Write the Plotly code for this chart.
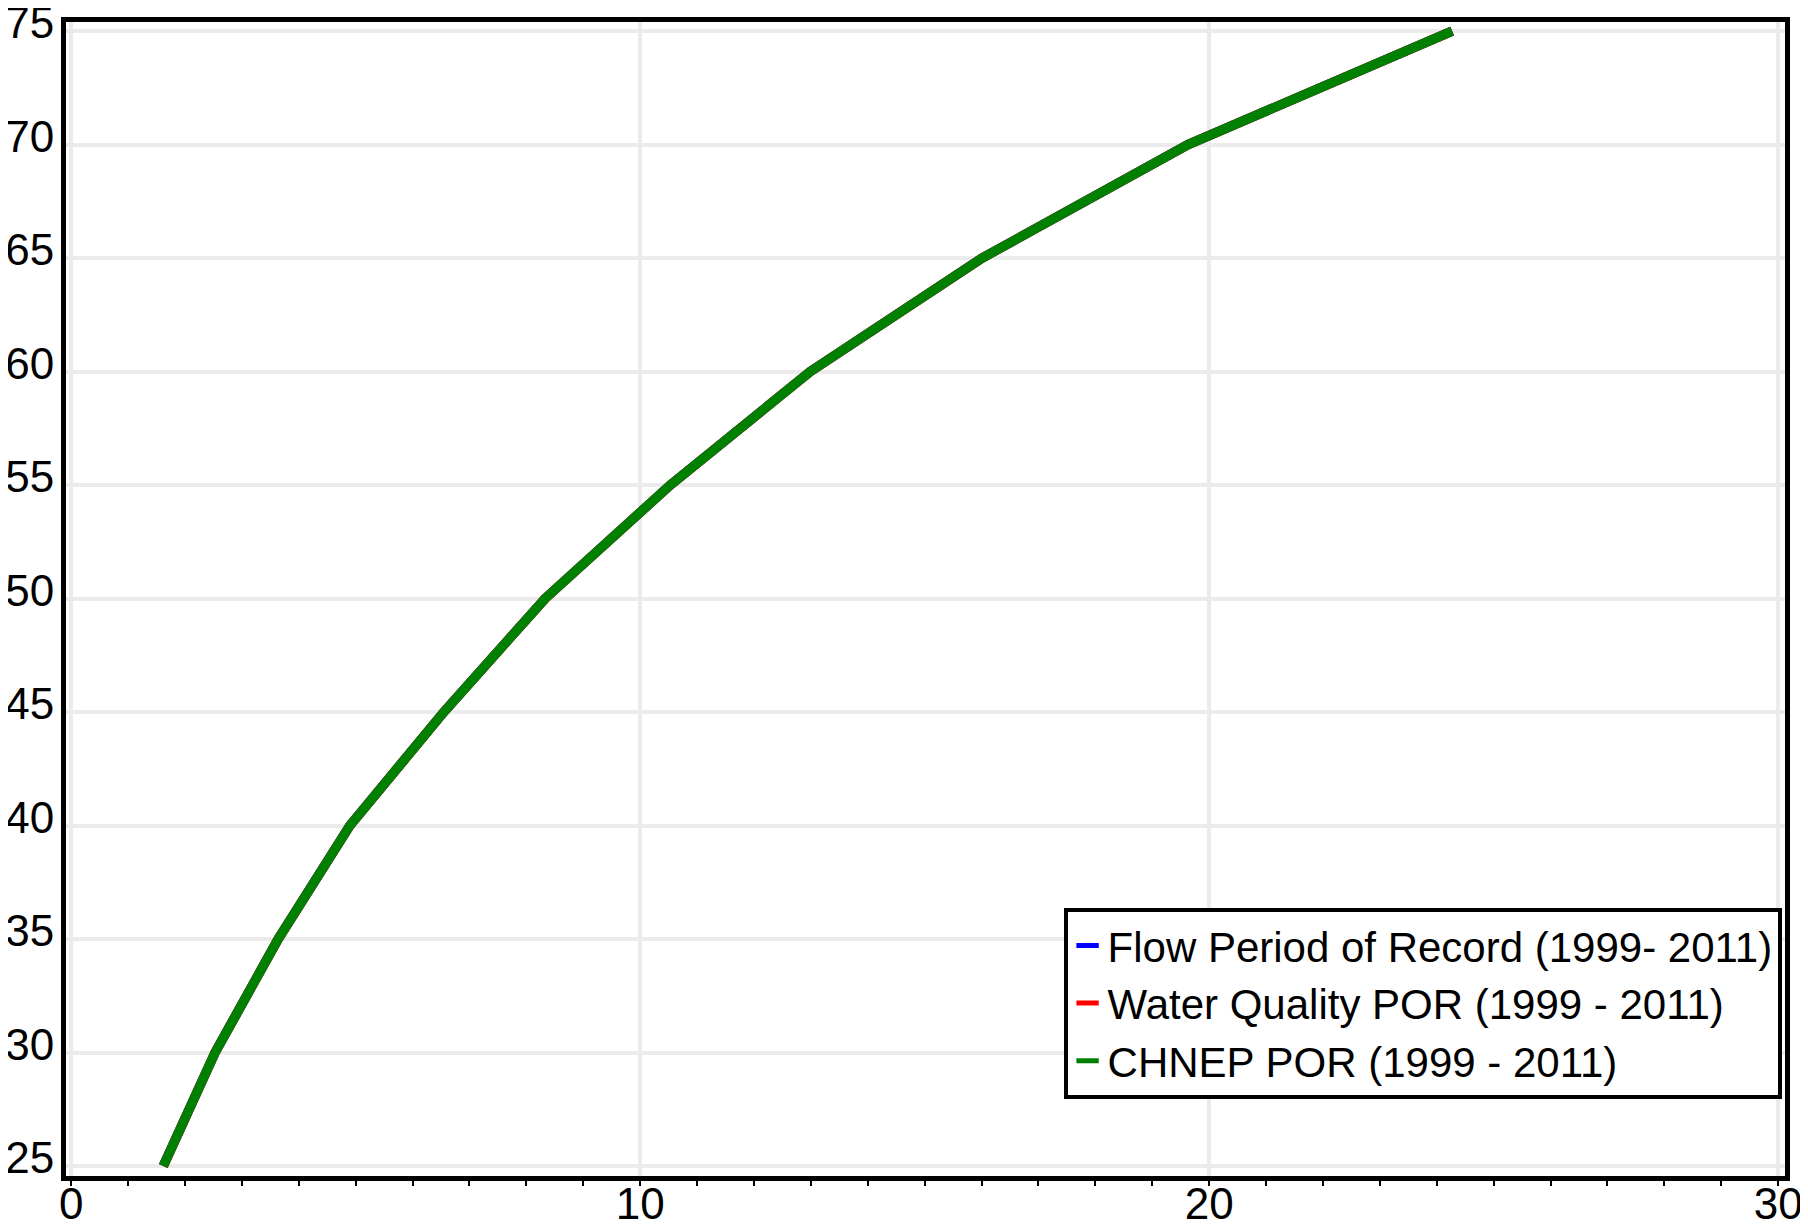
import plotly.graph_objects as go

# Data (all three series coincide; green drawn on top)
y_levels = [25, 30, 35, 40, 45, 50, 55, 60, 65, 70, 75]
flow_x = [1.62, 2.53, 3.64, 4.90, 6.55, 8.33, 10.53, 12.99, 16.01, 19.63, 24.27]
wq_x = [1.62, 2.53, 3.64, 4.90, 6.55, 8.33, 10.53, 12.99, 16.01, 19.63, 24.27]
chnep_x = [1.62, 2.53, 3.64, 4.90, 6.55, 8.33, 10.53, 12.99, 16.01, 19.63, 24.27]

series_names = [
    "Flow Period of Record (1999- 2011)",
    "Water Quality POR (1999 - 2011)",
    "CHNEP POR (1999 - 2011)",
]
series_colors = ["#0000ff", "#ff0000", "#008000"]
series_x = [flow_x, wq_x, chnep_x]

FONT = "Arial, Liberation Sans, Helvetica, sans-serif"

fig = go.Figure()
for name, color, xs in zip(series_names, series_colors, series_x):
    fig.add_trace(go.Scatter(
        x=xs, y=y_levels, mode="lines", name=name,
        line=dict(color=color, width=9.5), showlegend=False,
        legendgroup=name,
    ))
# legend entries (small rectangle swatches)
for name, color in zip(series_names, series_colors):
    fig.add_trace(go.Scatter(
        x=[None], y=[None], mode="markers", name=name, legendgroup=name,
        marker=dict(symbol="line-ew", size=16, line=dict(color=color, width=5)),
        showlegend=True,
    ))

fig.update_layout(
    width=1800, height=1217,
    margin=dict(l=58, r=23, t=14, b=49),
    paper_bgcolor="white", plot_bgcolor="white",
    font=dict(family=FONT, color="black", size=44),
    showlegend=True,
    legend=dict(
        x=0.998, y=0.067, xanchor="right", yanchor="bottom",
        bgcolor="white", bordercolor="black", borderwidth=4,
        font=dict(family=FONT, size=42, color="black"),
        tracegroupgap=0, entrywidth=700, entrywidthmode="pixels",
    ),
)
fig.update_xaxes(
    range=[-0.09, 30.12], tick0=0, dtick=10, automargin=False,
    showgrid=True, gridcolor="#ebebeb", gridwidth=4,
    showline=True, mirror=True, linecolor="black", linewidth=5,
    ticks="outside", ticklen=5, tickwidth=2, tickcolor="black",
    minor=dict(dtick=1, ticks="outside", ticklen=5, tickwidth=2, tickcolor="black", showgrid=False),
    zeroline=False, tickfont=dict(size=44), ticklabelstandoff=-20,
    ticklabeloverflow="allow",
)
fig.update_yaxes(
    range=[24.56, 75.4], tick0=0, dtick=5, automargin=False,
    showgrid=True, gridcolor="#ebebeb", gridwidth=4,
    showline=True, mirror=True, linecolor="black", linewidth=5,
    ticks="", zeroline=False, tickfont=dict(size=44), ticklabelstandoff=-2,
    ticklabeloverflow="allow", ticklabelshift=-8,
)

fig.write_html("out.html")
